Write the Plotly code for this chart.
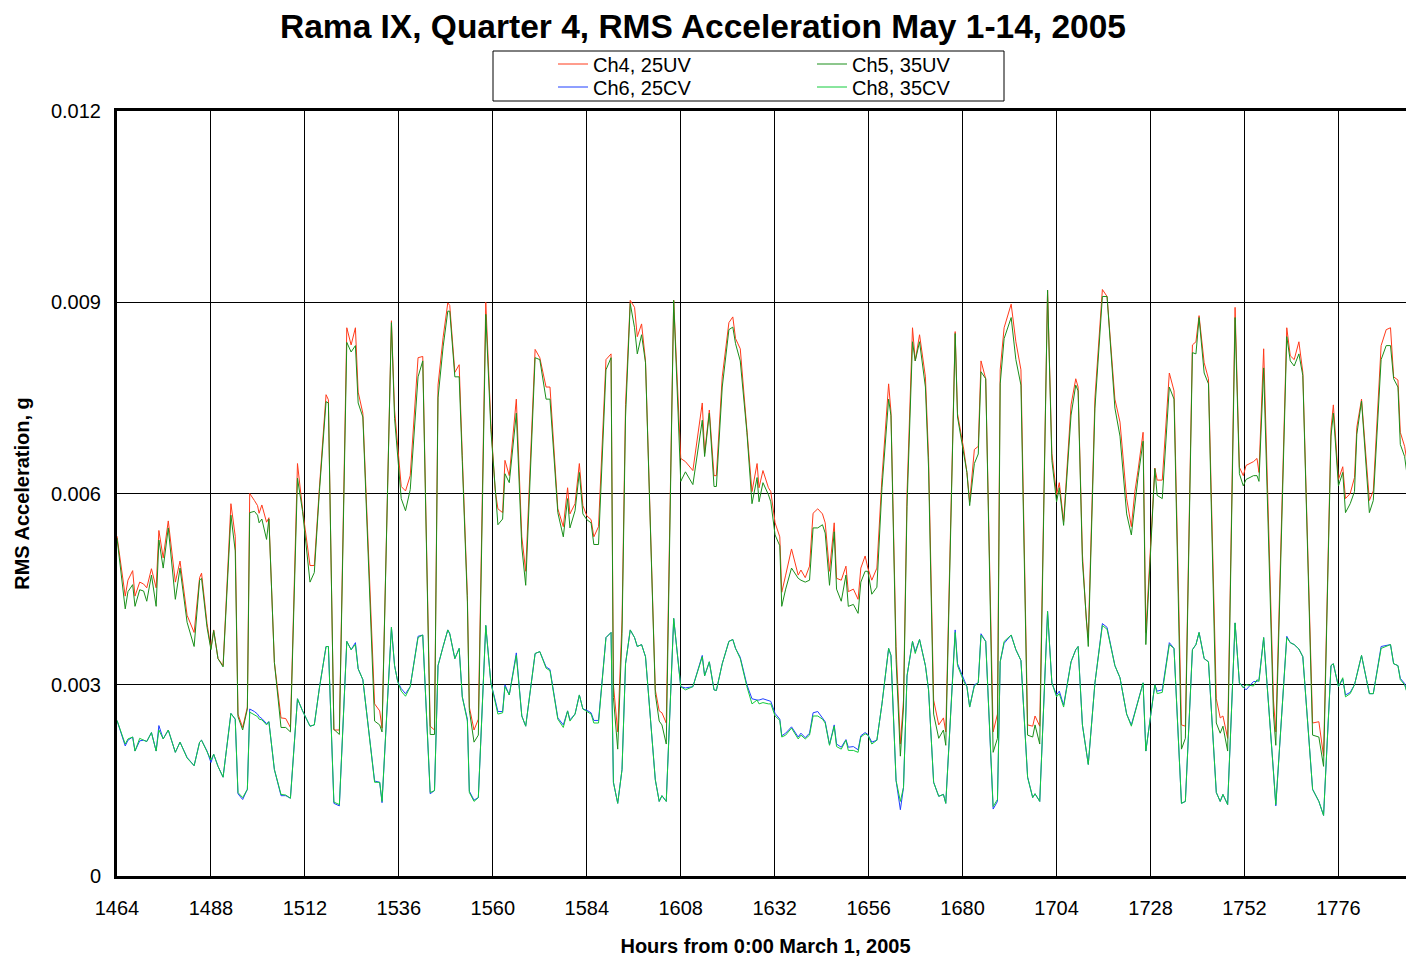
import numpy as np
import plotly.graph_objects as go

# Hours from 0:00 March 1, 2005 (sample times)
hours = [
    1464.0, 1466.1, 1466.8, 1468.0, 1468.6, 1469.8, 1470.8, 1471.6, 1472.8, 1474.0, 1474.7, 1475.8, 1477.1, 1478.9, 1480.1, 1481.9, 1483.7, 1485.1, 1485.6, 1487.0, 1488.0, 1488.7, 1489.8,
    1491.1, 1493.1, 1494.2, 1494.9, 1496.1, 1497.3, 1497.9, 1499.1, 1499.9, 1500.3, 1501.0, 1502.2, 1502.8, 1504.2, 1505.9, 1507.1, 1508.3, 1510.1, 1511.4, 1513.3, 1514.4, 1515.7, 1517.4, 1518.0,
    1519.4, 1520.8, 1522.7, 1523.8, 1524.9, 1525.6, 1526.8, 1529.8, 1531.1, 1531.7, 1534.1, 1534.9, 1535.7, 1536.6, 1537.7, 1538.9, 1540.9, 1542.1, 1544.0, 1545.1,
    1546.0, 1547.3, 1548.5, 1549.0, 1550.3, 1551.4, 1552.2, 1553.5, 1554.0, 1555.2, 1556.3, 1558.2, 1559.5, 1560.6, 1561.3, 1562.5, 1563.1, 1564.2, 1566.0, 1567.4, 1568.4, 1570.8, 1572.0,
    1573.6, 1574.6, 1576.6, 1578.0, 1579.1, 1579.7, 1581.0, 1582.1, 1583.0, 1584.0, 1585.1, 1585.8, 1587.0, 1588.9, 1590.2, 1590.8, 1591.9, 1593.0, 1593.9, 1595.1, 1596.2, 1596.9, 1598.0, 1599.0,
    1601.5, 1602.5, 1603.2, 1604.3, 1606.2, 1608.0, 1609.2, 1611.1, 1613.5, 1614.1, 1615.3, 1616.5, 1617.1, 1618.6, 1620.3, 1621.3, 1622.0, 1623.2, 1624.9, 1626.2, 1627.5,
    1628.0, 1629.0, 1630.4, 1631.0, 1632.1, 1633.3, 1633.8, 1634.8, 1636.3, 1638.0, 1638.7, 1639.8, 1640.9, 1641.8, 1643.0, 1644.2, 1644.9, 1646.0, 1647.2, 1647.8, 1649.0, 1650.2, 1650.8, 1652.1, 1653.3, 1654.0, 1655.1, 1655.8,
    1656.8, 1658.1, 1659.4, 1661.1, 1661.7, 1663.0, 1664.1, 1664.9, 1665.8, 1667.2, 1667.9, 1669.0, 1670.5, 1671.3, 1672.6, 1673.9, 1675.1, 1675.7, 1678.1, 1678.7, 1680.3, 1681.1, 1681.8,
    1683.0, 1684.0, 1684.7, 1685.9, 1687.8, 1688.9, 1689.6, 1690.6, 1692.4, 1693.6, 1694.9, 1696.6, 1697.9, 1698.5, 1699.7, 1701.7, 1702.8, 1704.0, 1704.7, 1705.8, 1707.7, 1708.9, 1709.5, 1710.6, 1711.6,
    1712.1, 1713.8, 1715.7, 1716.9, 1718.9, 1720.2, 1721.9, 1723.1, 1724.0, 1724.8, 1726.1, 1726.8, 1729.1, 1729.7, 1731.0, 1732.8, 1734.0, 1735.9, 1736.9,
    1738.7, 1739.6, 1740.4, 1741.7, 1742.8, 1744.8, 1745.8, 1746.5, 1747.7, 1749.6, 1750.7, 1751.7, 1752.4, 1754.3, 1755.2, 1755.7, 1756.9, 1759.4, 1760.0, 1762.8, 1763.7, 1764.7, 1765.9,
    1766.9, 1769.4, 1771.0, 1772.2, 1774.1, 1774.7, 1776.0, 1777.1, 1777.8, 1779.0, 1780.1, 1780.7, 1781.9, 1783.9, 1784.9, 1786.9, 1788.2, 1789.3, 1790.1, 1791.2, 1791.8, 1792.9, 1794.1, 1795.0,
]

# RMS acceleration, in units of 0.001 g
ch4_25UV = [
    5.33, 4.39, 4.64, 4.79, 4.39, 4.61, 4.58, 4.52, 4.82, 4.52, 5.42, 4.99, 5.57, 4.61, 4.94, 4.09, 3.82, 4.68, 4.75, 3.96, 3.57, 3.86, 3.41,
    3.30, 5.84, 5.33, 2.54, 2.33, 2.65, 6.00, 5.89, 5.81, 5.69, 5.82, 5.55, 5.62, 3.35, 2.48, 2.47, 2.33, 6.47, 5.75, 4.87, 4.87, 6.09, 7.55, 7.47,
    2.29, 2.29, 8.60, 8.33, 8.60, 7.59, 7.26, 2.70, 2.59, 2.32, 8.71, 7.31, 6.74, 6.11, 6.04, 6.28, 8.13, 8.15, 2.35, 2.29,
    7.70, 8.45, 8.99, 8.95, 7.90, 8.02, 6.60, 4.40, 2.65, 2.29, 2.46, 9.00, 7.10, 6.05, 5.76, 5.70, 6.52, 6.28, 7.48, 5.32, 4.78, 8.26, 8.13,
    7.67, 7.67, 5.76, 5.48, 6.09, 5.68, 5.84, 6.47, 5.81, 5.65, 5.59, 5.32, 5.48, 8.10, 8.19, 3.00, 2.26, 4.00, 7.40, 9.03, 8.92, 8.46, 8.66, 8.08,
    2.92, 2.59, 2.56, 2.40, 9.03, 6.55, 6.50, 6.36, 7.42, 6.63, 7.31, 6.28, 6.28, 7.83, 8.68, 8.77, 8.43, 8.27, 7.01, 6.03, 6.47,
    6.09, 6.36, 6.09, 6.03, 5.54, 5.32, 4.45, 4.72, 5.13, 4.72, 4.80, 4.68, 4.86, 5.69, 5.76, 5.68, 5.54, 4.78, 5.54, 4.67, 4.64, 4.86, 4.46, 4.50, 4.34, 4.83, 5.02, 4.83,
    4.64, 4.83, 6.25, 7.72, 7.28, 3.60, 2.07, 2.76, 6.00, 8.60, 8.08, 8.49, 7.83, 6.57, 2.76, 2.37, 2.48, 2.26, 8.54, 7.25, 6.69, 6.33, 5.87,
    6.69, 6.74, 8.08, 7.80, 2.26, 2.54, 7.94, 8.60, 8.97, 8.38, 7.94, 2.37, 2.35, 2.51, 2.35, 9.19, 6.63, 5.98, 6.17, 5.56, 7.39, 7.80, 7.67, 5.05, 4.01,
    3.74, 7.50, 9.20, 9.09, 7.48, 7.12, 5.92, 5.48, 6.03, 6.36, 6.96, 3.82, 6.40, 6.21, 6.21, 7.89, 7.61, 2.37, 2.35,
    8.33, 8.38, 8.79, 8.05, 7.80, 2.78, 2.48, 2.51, 2.16, 8.92, 6.41, 6.28, 6.44, 6.50, 6.55, 6.33, 8.27, 2.76, 2.26, 8.60, 8.16, 8.10, 8.38,
    7.90, 2.40, 2.42, 1.88, 7.01, 7.39, 6.22, 6.42, 5.92, 6.00, 6.25, 7.04, 7.48, 5.89, 6.04, 8.32, 8.57, 8.60, 7.83, 7.78, 6.96, 6.74, 6.28, 6.17,
]

ch5_35UV = [
    5.30, 4.19, 4.46, 4.57, 4.23, 4.49, 4.47, 4.31, 4.72, 4.23, 5.27, 4.83, 5.46, 4.34, 4.83, 3.98, 3.60, 4.64, 4.67, 3.90, 3.55, 3.85, 3.41,
    3.28, 5.66, 5.10, 2.50, 2.29, 2.62, 5.70, 5.72, 5.66, 5.54, 5.60, 5.28, 5.60, 3.35, 2.33, 2.33, 2.26, 6.24, 5.72, 4.61, 4.76, 6.03, 7.44, 7.42,
    2.30, 2.22, 8.37, 8.22, 8.32, 7.42, 7.20, 2.43, 2.37, 2.26, 8.68, 7.18, 6.58, 5.92, 5.73, 6.06, 7.83, 8.08, 2.22, 2.22,
    7.50, 8.30, 8.86, 8.86, 7.83, 7.83, 6.50, 4.30, 2.60, 2.10, 2.21, 8.81, 7.00, 6.00, 5.51, 5.60, 6.31, 6.17, 7.26, 5.16, 4.56, 8.13, 8.10,
    7.48, 7.48, 5.70, 5.32, 5.92, 5.46, 5.73, 6.33, 5.68, 5.59, 5.54, 5.20, 5.20, 7.94, 8.13, 2.80, 1.99, 3.80, 7.20, 8.98, 8.60, 8.19, 8.49, 8.05,
    2.85, 2.43, 2.37, 2.07, 9.03, 6.19, 6.34, 6.14, 7.15, 6.58, 7.26, 6.11, 6.11, 7.67, 8.57, 8.61, 8.35, 8.08, 6.96, 5.84, 6.25,
    5.87, 6.17, 5.98, 5.87, 5.35, 5.18, 4.23, 4.50, 4.83, 4.67, 4.64, 4.61, 4.64, 5.46, 5.46, 5.51, 5.38, 4.56, 5.40, 4.50, 4.31, 4.72, 4.23, 4.26, 4.12, 4.61, 4.78, 4.78,
    4.42, 4.53, 6.09, 7.48, 7.22, 3.40, 1.88, 2.65, 5.80, 8.38, 8.08, 8.38, 7.67, 6.40, 2.54, 2.16, 2.29, 2.05, 8.51, 7.20, 6.58, 6.33, 5.81,
    6.47, 6.62, 7.91, 7.80, 1.94, 2.16, 7.72, 8.43, 8.76, 8.10, 7.70, 2.21, 2.18, 2.37, 2.07, 9.19, 6.52, 5.87, 6.09, 5.50, 7.23, 7.70, 7.61, 4.94, 3.96,
    3.60, 7.34, 9.09, 9.09, 7.34, 6.90, 5.68, 5.35, 5.87, 6.25, 6.82, 3.63, 6.39, 5.97, 5.92, 7.67, 7.48, 1.99, 2.16,
    8.21, 8.19, 8.76, 7.89, 7.72, 2.40, 2.24, 2.35, 1.96, 8.76, 6.31, 6.12, 6.22, 6.28, 6.28, 6.19, 7.97, 2.54, 2.05, 8.46, 8.08, 8.00, 8.19,
    7.85, 2.21, 2.18, 1.72, 6.90, 7.26, 6.12, 6.33, 5.70, 5.84, 6.03, 6.93, 7.45, 5.70, 5.89, 8.10, 8.32, 8.32, 7.80, 7.67, 6.77, 6.58, 6.03, 5.95,
]

ch6_25CV = [
    2.44, 2.04, 2.13, 2.18, 1.96, 2.12, 2.13, 2.11, 2.25, 1.96, 2.36, 2.15, 2.29, 1.94, 2.10, 1.86, 1.73, 2.10, 2.13, 1.96, 1.78, 1.91, 1.72,
    1.55, 2.55, 2.46, 1.29, 1.20, 1.36, 2.62, 2.58, 2.54, 2.50, 2.47, 2.39, 2.42, 1.67, 1.26, 1.26, 1.22, 2.78, 2.59, 2.35, 2.37, 2.95, 3.60, 3.60,
    1.14, 1.10, 3.68, 3.55, 3.66, 3.25, 3.08, 1.49, 1.47, 1.15, 3.90, 3.30, 3.05, 2.94, 2.86, 2.97, 3.76, 3.78, 1.29, 1.34,
    3.30, 3.60, 3.86, 3.80, 3.41, 3.57, 2.81, 2.46, 1.33, 1.19, 1.23, 3.93, 3.03, 2.76, 2.58, 2.58, 3.00, 2.84, 3.50, 2.51, 2.35, 3.49, 3.52,
    3.28, 3.24, 2.48, 2.37, 2.59, 2.45, 2.54, 2.84, 2.62, 2.60, 2.56, 2.44, 2.44, 3.74, 3.82, 1.47, 1.14, 1.67, 3.33, 3.86, 3.74, 3.60, 3.63, 3.44,
    1.51, 1.17, 1.26, 1.17, 4.04, 2.97, 2.95, 2.97, 3.46, 3.14, 3.36, 2.92, 2.91, 3.33, 3.68, 3.71, 3.57, 3.43, 3.00, 2.78, 2.76,
    2.76, 2.78, 2.76, 2.74, 2.55, 2.46, 2.20, 2.24, 2.34, 2.18, 2.24, 2.17, 2.24, 2.56, 2.58, 2.49, 2.42, 2.06, 2.37, 2.07, 2.02, 2.14, 2.02, 2.03, 1.98, 2.20, 2.25, 2.22,
    2.10, 2.13, 2.70, 3.57, 3.46, 1.50, 1.04, 1.39, 3.14, 3.68, 3.52, 3.71, 3.30, 2.92, 1.47, 1.25, 1.28, 1.14, 3.86, 3.33, 3.07, 2.97, 2.65,
    3.00, 3.03, 3.80, 3.68, 1.05, 1.17, 3.36, 3.65, 3.78, 3.55, 3.38, 1.55, 1.23, 1.29, 1.17, 4.15, 3.03, 2.84, 2.90, 2.68, 3.36, 3.55, 3.60, 2.37, 1.91,
    1.75, 3.03, 3.96, 3.90, 3.30, 3.11, 2.54, 2.37, 2.58, 2.73, 3.03, 1.96, 3.00, 2.90, 2.92, 3.66, 3.57, 1.14, 1.17,
    3.55, 3.63, 3.82, 3.41, 3.36, 1.31, 1.17, 1.28, 1.12, 3.97, 3.03, 2.97, 2.92, 3.05, 3.05, 3.08, 3.74, 1.64, 1.10, 3.76, 3.66, 3.63, 3.56,
    3.44, 1.36, 1.17, 0.95, 3.30, 3.33, 2.97, 3.09, 2.84, 2.88, 3.00, 3.16, 3.46, 2.86, 2.86, 3.60, 3.62, 3.63, 3.33, 3.30, 3.10, 3.02, 2.76, 2.78,
]

ch8_35CV = [
    2.44, 2.07, 2.15, 2.18, 1.96, 2.16, 2.13, 2.11, 2.25, 1.96, 2.29, 2.15, 2.29, 1.94, 2.10, 1.85, 1.73, 2.10, 2.13, 1.96, 1.82, 1.91, 1.72,
    1.55, 2.55, 2.46, 1.31, 1.23, 1.36, 2.57, 2.53, 2.50, 2.46, 2.45, 2.37, 2.42, 1.67, 1.28, 1.27, 1.22, 2.78, 2.59, 2.35, 2.37, 2.95, 3.60, 3.60,
    1.16, 1.12, 3.68, 3.55, 3.63, 3.25, 3.08, 1.47, 1.47, 1.17, 3.90, 3.30, 3.05, 2.90, 2.82, 2.97, 3.74, 3.78, 1.31, 1.34,
    3.30, 3.60, 3.86, 3.80, 3.41, 3.57, 2.81, 2.43, 1.31, 1.17, 1.23, 3.93, 3.03, 2.73, 2.54, 2.56, 2.97, 2.84, 3.46, 2.51, 2.35, 3.49, 3.52,
    3.26, 3.22, 2.46, 2.33, 2.59, 2.43, 2.54, 2.84, 2.62, 2.58, 2.54, 2.40, 2.40, 3.74, 3.82, 1.47, 1.14, 1.67, 3.33, 3.86, 3.74, 3.60, 3.63, 3.44,
    1.51, 1.17, 1.26, 1.17, 4.04, 2.97, 2.92, 2.97, 3.44, 3.14, 3.36, 2.92, 2.91, 3.33, 3.68, 3.71, 3.57, 3.41, 2.97, 2.70, 2.76,
    2.70, 2.72, 2.70, 2.70, 2.51, 2.44, 2.18, 2.21, 2.32, 2.15, 2.21, 2.15, 2.21, 2.51, 2.51, 2.46, 2.40, 2.05, 2.35, 2.03, 1.99, 2.13, 1.97, 1.97, 1.94, 2.18, 2.23, 2.21,
    2.07, 2.13, 2.70, 3.57, 3.46, 1.50, 1.17, 1.39, 3.14, 3.68, 3.49, 3.71, 3.30, 2.92, 1.47, 1.25, 1.28, 1.14, 3.82, 3.30, 3.05, 2.97, 2.65,
    2.98, 3.03, 3.78, 3.68, 1.09, 1.20, 3.36, 3.68, 3.78, 3.55, 3.38, 1.55, 1.23, 1.29, 1.17, 4.15, 3.03, 2.81, 2.86, 2.65, 3.36, 3.55, 3.60, 2.37, 1.91,
    1.75, 3.03, 3.93, 3.87, 3.30, 3.11, 2.54, 2.35, 2.56, 2.73, 3.03, 1.96, 3.00, 2.86, 2.88, 3.63, 3.57, 1.14, 1.17,
    3.55, 3.63, 3.82, 3.41, 3.36, 1.31, 1.17, 1.28, 1.12, 3.97, 3.03, 2.95, 3.00, 2.98, 3.08, 3.05, 3.74, 1.64, 1.12, 3.74, 3.66, 3.63, 3.56,
    3.44, 1.36, 1.17, 0.95, 3.30, 3.33, 2.97, 3.11, 2.81, 2.86, 3.00, 3.16, 3.46, 2.86, 2.86, 3.57, 3.60, 3.63, 3.33, 3.30, 3.08, 3.00, 2.76, 2.78,
]

x_ticks = [1464, 1488, 1512, 1536, 1560, 1584, 1608, 1632, 1656, 1680, 1704, 1728, 1752, 1776]
y_ticks = [0, 0.003, 0.006, 0.009, 0.012]
y_tick_labels = ["0", "0.003", "0.006", "0.009", "0.012"]

series = [
    ("Ch4, 25UV", ch4_25UV, "#FF3A1A", "legend"),
    ("Ch5, 35UV", ch5_35UV, "#1A8F1A", "legend2"),
    ("Ch6, 25CV", ch6_25CV, "#1F3FFF", "legend3"),
    ("Ch8, 35CV", ch8_35CV, "#12CC3C", "legend4"),
]

for name, vals, _, _ in series:
    assert len(vals) == len(hours), (name, len(vals), len(hours))

FONT = "Arial, Liberation Sans, sans-serif"
fig = go.Figure()
for name, vals, color, leg in [series[0], series[2], series[1], series[3]]:
    fig.add_trace(go.Scatter(
        x=hours, y=np.array(vals) * 1e-3, mode="lines", name=name,
        line=dict(color=color, width=1), legend=leg, showlegend=True,
    ))

# page has an 8px body margin; figure coordinates = page coordinates - 8
OFF = 8
PL, PR, PT, PB = 117, 1414, 111, 876  # plot area in page pixels
W = PR - OFF
H = 957 - OFF


def px_x(p):
    return (p - PL) / float(PR - PL)


def px_y(p):
    return (PB - p) / float(PB - PT)


leg_common = dict(bgcolor="rgba(0,0,0,0)", borderwidth=0,
                  font=dict(family=FONT, size=20, color="black"),
                  xanchor="left", yanchor="middle")

fig.update_layout(
    width=W, height=H,
    margin=dict(l=PL - OFF, r=0, t=PT - OFF, b=H - (PB - OFF)),
    showlegend=True,
    paper_bgcolor="white", plot_bgcolor="white",
    font=dict(family=FONT, size=20, color="black"),
    title=dict(text="<b>Rama IX, Quarter 4, RMS Acceleration May 1-14, 2005</b>",
               x=(703 - OFF) / W, xanchor="center", y=1 - (26 - OFF) / H, yanchor="middle",
               font=dict(family=FONT, size=33.5, color="black")),
    legend=dict(x=px_x(553), y=px_y(64), **leg_common),
    legend2=dict(x=px_x(812), y=px_y(64), **leg_common),
    legend3=dict(x=px_x(553), y=px_y(87), **leg_common),
    legend4=dict(x=px_x(812), y=px_y(87), **leg_common),
    shapes=[dict(type="rect", xref="paper", yref="paper",
                 x0=px_x(493), x1=px_x(1004), y0=px_y(101), y1=px_y(51),
                 line=dict(color="black", width=1), fillcolor="rgba(0,0,0,0)")],
    xaxis=dict(range=[1464, 1795.3], tickvals=x_ticks, ticktext=[str(t) for t in x_ticks],
               showgrid=True, gridcolor="black", gridwidth=1, zeroline=False,
               showline=True, linecolor="black", linewidth=3, mirror=True,
               ticks="", ticklabelstandoff=12, tickfont=dict(size=20),
               title=dict(text="<b>Hours from 0:00 March 1, 2005</b>", standoff=23,
                          font=dict(size=20)),
               automargin=False),
    yaxis=dict(range=[0, 0.012], tickvals=y_ticks, ticktext=y_tick_labels,
               showgrid=True, gridcolor="black", gridwidth=1, zeroline=False,
               showline=True, linecolor="black", linewidth=3, mirror=False,
               ticks="", ticklabelstandoff=9, tickfont=dict(size=20),
               title=dict(text="<b>RMS Acceleration, g</b>", standoff=16,
                          font=dict(size=20)),
               automargin=False),
)

fig.write_html("out.html")
